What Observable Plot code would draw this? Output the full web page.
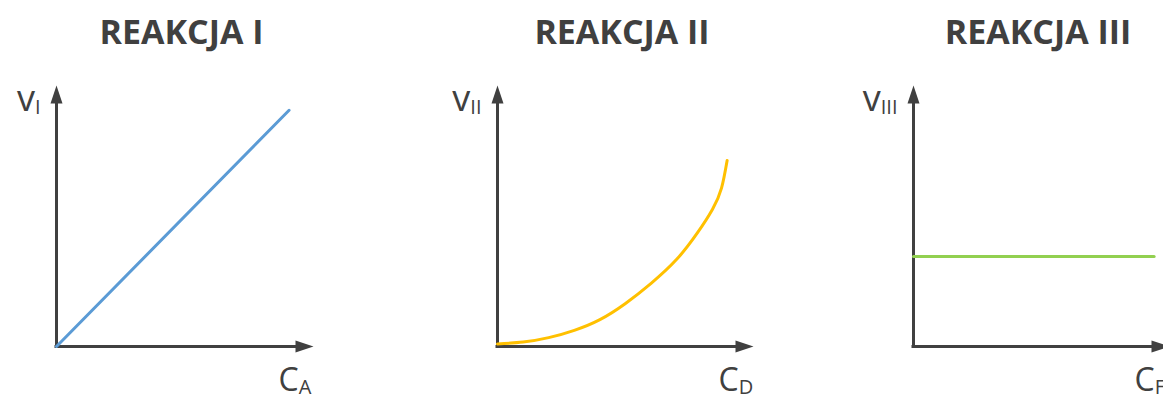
<!DOCTYPE html>
<html>
<head>
<meta charset="utf-8">
<script src="https://cdn.jsdelivr.net/npm/d3@7"></script>
<script src="https://cdn.jsdelivr.net/npm/@observablehq/plot@0.6"></script>
<style>
  html, body { margin: 0; padding: 0; background: #fff; overflow: hidden; }
  #chart { position: relative; width: 1163px; height: 396px; overflow: hidden; }
  #chart svg { position: absolute; top: 0; }
</style>
</head>
<body>
<div id="chart"></div>
<script>
// Panel titles and axis labels (main letter + subscript)
const titles = ["REAKCJA I", "REAKCJA II", "REAKCJA III"];
const yNames = ["v", "v", "v"];
const ySubs = ["I", "II", "III"];
const xNames = ["C", "C", "C"];
const xSubs = ["A", "D", "F"];

// Reaction I: rate grows linearly with concentration
const concI = [0, 0.905];
const rateI = [0, 0.905];

// Reaction II: rate grows ever faster with concentration
const concII = [0, 0.10, 0.20, 0.30, 0.40, 0.50, 0.60, 0.70, 0.78, 0.84, 0.875, 0.897];
const rateII = [0.010, 0.017, 0.034, 0.062, 0.103, 0.165, 0.242, 0.334, 0.434, 0.526, 0.607, 0.713];

// Reaction III: rate independent of concentration
const concIII = [0, 0.94];
const rateIII = [0.345, 0.345];

const colors = ["#5b9bd5", "#ffc000", "#92d050"];
const ink = "#404040";
const SEP = "\u2063";

// Filled arrowheads whose tip sits on the anchor point
const arrowUp = {
  draw(context, size) {
    const r = Math.sqrt(size / Math.PI);
    context.moveTo(0, 0);
    context.lineTo(r, 3 * r);
    context.lineTo(-r, 3 * r);
    context.closePath();
  }
};
const arrowRight = {
  draw(context, size) {
    const r = Math.sqrt(size / Math.PI);
    context.moveTo(0, 0);
    context.lineTo(-3 * r, r);
    context.lineTo(-3 * r, -r);
    context.closePath();
  }
};

const series = [
  {conc: concI, rate: rateI, curve: "linear"},
  {conc: concII, rate: rateII, curve: "natural"},
  {conc: concIII, rate: rateIII, curve: "linear"}
];

const layout = [
  {left: 0, width: 400, marginLeft: 56, marginRight: 87},
  {left: 400, width: 400, marginLeft: 97, marginRight: 47},
  {left: 800, width: 369, marginLeft: 113, marginRight: 0}
];

const font = "'Open Sans', sans-serif";
const chart = document.getElementById("chart");

series.forEach((s, i) => {
  const L = layout[i];
  const pts = s.conc.map((c, k) => ({c, v: s.rate[k]}));
  const svg = Plot.plot({
    width: L.width,
    height: 396,
    marginLeft: L.marginLeft,
    marginRight: L.marginRight,
    marginTop: 85,
    marginBottom: 50,
    style: {fontFamily: font, background: "#fff", overflow: "visible"},
    x: {domain: [0, 1], axis: null},
    y: {domain: [0, 1], axis: null},
    marks: [
      // axes
      Plot.ruleX([0], {stroke: ink, strokeWidth: 3, insetTop: 10, strokeLinecap: "square"}),
      Plot.ruleY([0], {stroke: ink, strokeWidth: 3, insetRight: 10, strokeLinecap: "square"}),
      Plot.dot([{c: 0, v: 1}], {x: "c", y: "v", symbol: arrowUp, r: 6, fill: ink}),
      Plot.dot([{c: 1, v: 0}], {x: "c", y: "v", symbol: arrowRight, r: 6, fill: ink}),
      // rate curve
      Plot.line(pts, {x: "c", y: "v", stroke: colors[i], strokeWidth: 3, curve: s.curve}),
      // title
      Plot.text([titles[i]], {
        frameAnchor: "top", lineAnchor: "bottom", dy: -42, dx: -3.5,
        fontSize: 34, fontWeight: 700, fill: ink, fontFamily: font
      }),
      // axis labels
      Plot.text([yNames[i] + SEP + ySubs[i]], {
        frameAnchor: "top-left", textAnchor: "end", lineAnchor: "bottom", dx: -16, dy: 25,
        fontSize: 36, fill: ink, fontFamily: font
      }),
      Plot.text([xNames[i] + SEP + xSubs[i]], {
        frameAnchor: "bottom-right", textAnchor: "start", lineAnchor: "bottom", dx: -35, dy: 44,
        fontSize: 32, fill: ink, fontFamily: font
      })
    ]
  });
  // turn "main⁣sub" labels into a letter with a subscript
  d3.select(svg).selectAll("text").each(function () {
    const t = this.textContent;
    if (!t.includes(SEP)) return;
    const [main, sub] = t.split(SEP);
    this.textContent = main;
    d3.select(this).append("tspan")
      .attr("font-size", 20)
      .attr("dx", 0)
      .attr("dy", 3)
      .text(sub);
  });
  svg.style.left = L.left + "px";
  chart.appendChild(svg);
});
</script>
</body>
</html>
